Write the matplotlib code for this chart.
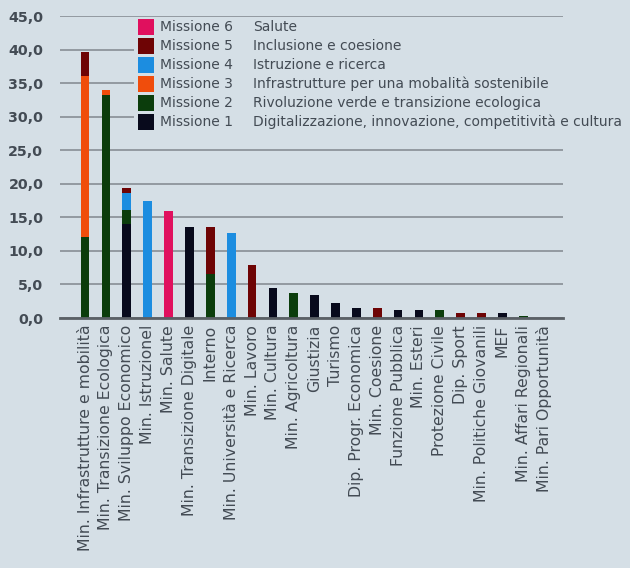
import numpy as np
import matplotlib
matplotlib.use("Agg")
import matplotlib.pyplot as plt
from matplotlib.patches import Rectangle

# categorie (ministeri) e valori per missione (mld euro)
ministeri = [
    "Min. Infrastrutture e mobilità", "Min. Transizione Ecologica", "Min. Sviluppo Economico",
    "Min. Istruzionel", "Min. Salute", "Min. Transizione Digitale", "Interno",
    "Min. Università e Ricerca", "Min. Lavoro", "Min. Cultura", "Min. Agricoltura",
    "Giustizia", "Turismo", "Dip. Progr. Economica", "Min. Coesione", "Funzione Pubblica",
    "Min. Esteri", "Protezione Civile", "Dip. Sport", "Min. Politiche Giovanili", "MEF",
    "Min. Affari Regionali", "Min. Pari Opportunità",
]
m1 = [0, 0, 14.0, 0, 0, 13.6, 0, 0, 0, 4.4, 0, 3.4, 2.2, 1.5, 0, 1.2, 1.2, 0, 0, 0, 0.7, 0, 0]
m2 = [12.0, 33.2, 2.1, 0, 0, 0, 6.6, 0, 0, 0, 3.7, 0, 0, 0, 0, 0, 0, 1.2, 0, 0, 0, 0.3, 0]
m3 = [24.1, 0.8, 0, 0, 0, 0, 0, 0, 0, 0, 0, 0, 0, 0, 0, 0, 0, 0, 0, 0, 0, 0, 0]
m4 = [0, 0, 2.6, 17.4, 0, 0, 0, 12.6, 0, 0, 0, 0, 0, 0, 0, 0, 0, 0, 0, 0, 0, 0, 0]
m5 = [3.5, 0, 0.7, 0, 0, 0, 7.0, 0, 7.9, 0, 0, 0, 0, 0, 1.5, 0, 0, 0, 0.8, 0.8, 0, 0, 0]
m6 = [0, 0, 0, 0, 16.0, 0, 0, 0, 0, 0, 0, 0, 0, 0, 0, 0, 0, 0, 0, 0, 0, 0, 0]

missioni = ["Missione 6", "Missione 5", "Missione 4", "Missione 3", "Missione 2", "Missione 1"]
descrizioni = ["Salute", "Inclusione e coesione", "Istruzione e ricerca",
               "Infrastrutture per una mobalità sostenibile",
               "Rivoluzione verde e transizione ecologica",
               "Digitalizzazione, innovazione, competitività e cultura"]
colori = ["#e0105e", "#6e0405", "#1c8de0", "#f04d0c", "#0b3d0c", "#080a1c"]

bg = "#d5dfe6"
txt = "#434b54"
plt.rcParams['font.family'] = ['DejaVu Sans']

fig = plt.figure(figsize=(6.3, 5.68), dpi=100, facecolor=bg)
ax = fig.add_axes([60/630, 1-318/568, 503/630, 302/568], facecolor=bg)

x = np.arange(len(ministeri))
w = 0.42
serie = [m1, m2, m3, m4, m5, m6]
col_serie = colori[::-1]
base = np.zeros(len(ministeri))
for vals, c in zip(serie, col_serie):
    ax.bar(x, vals, w, bottom=base, color=c, zorder=3)
    base += np.array(vals)

ax.set_xlim(-1.2, 22.9)
ax.set_ylim(0, 45)
ax.set_yticks(np.arange(0, 46, 5))
ax.set_yticklabels([f"{v:.1f}".replace(".", ",") for v in np.arange(0, 46, 5)],
                   fontsize=10.3, fontweight='bold', color=txt)
ax.yaxis.grid(True, color="#8d949b", lw=1.3, zorder=0)
ax.set_xticks(x)
ax.set_xticklabels(ministeri, rotation=90, fontsize=11.3, color=txt)
ax.tick_params(axis='x', length=0, pad=5)
ax.tick_params(axis='y', length=0, pad=12)
for s in ["top", "right", "left"]:
    ax.spines[s].set_visible(False)
ax.spines["bottom"].set_color("#5a6066")
ax.spines["bottom"].set_linewidth(2)
ax.spines["bottom"].set_zorder(4)

# legenda manuale
ax.add_patch(Rectangle((2.35, 27.5), 25, 16.0, facecolor=bg, edgecolor='none',
                       zorder=2, clip_on=False))
y0 = 1 - 27/568
dy = 19/568
for i, (m, d, c) in enumerate(zip(missioni, descrizioni, colori)):
    yy = y0 - i*dy
    fig.patches.append(Rectangle((138/630, yy - 8/568), 16/630, 16/568, facecolor=c,
                                 transform=fig.transFigure, figure=fig))
    fig.text(160/630, yy, m, fontsize=10, color=txt, va='center')
    fig.text(253/630, yy, d, fontsize=10, color=txt, va='center')

fig.savefig("out.png", dpi=100, facecolor=bg)
